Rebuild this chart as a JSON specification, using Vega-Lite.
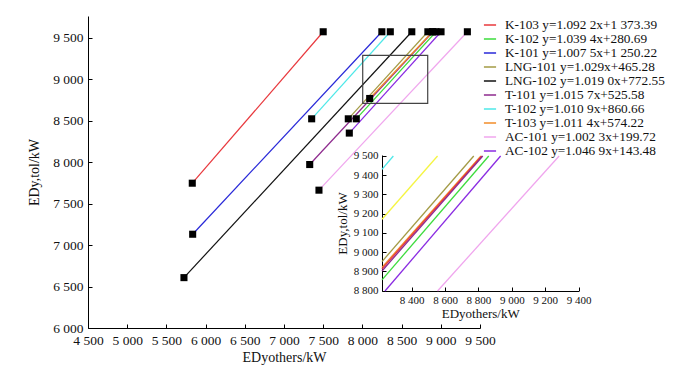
{
  "$schema": "https://vega.github.io/schema/vega-lite/v6.json",
  "width": 392,
  "height": 312,
  "autosize": {"type": "none"},
  "padding": {"left": 88, "top": 16, "right": 197, "bottom": 53},
  "background": "white",
  "config": {
    "view": {"stroke": null},
    "font": "Liberation Serif",
    "axis": {
      "grid": false,
      "domainColor": "#000",
      "tickColor": "#000",
      "labelColor": "#111",
      "titleColor": "#111",
      "labelFont": "Liberation Serif",
      "titleFont": "Liberation Serif",
      "titleFontWeight": "normal",
      "labelFlush": false,
      "labelOverlap": false,
      "labelBound": false
    },
    "legend": {
      "labelFont": "Liberation Serif",
      "labelColor": "#111"
    }
  },
  "datasets": {
    "main": [
      {"s": "K-103", "x": 5830, "y": 7745}, {"s": "K-103", "x": 7500, "y": 9570},
      {"s": "K-102", "x": 7922, "y": 8521}, {"s": "K-102", "x": 8939, "y": 9570},
      {"s": "K-101", "x": 5835, "y": 7130}, {"s": "K-101", "x": 8248, "y": 9570},
      {"s": "LNG-101", "x": 7820, "y": 8521}, {"s": "LNG-101", "x": 8835, "y": 9570},
      {"s": "LNG-102", "x": 5724, "y": 6607}, {"s": "LNG-102", "x": 8630, "y": 9570},
      {"s": "T-101", "x": 7328, "y": 7970}, {"s": "T-101", "x": 8900, "y": 9570},
      {"s": "T-102", "x": 7353, "y": 8521}, {"s": "T-102", "x": 8356, "y": 9570},
      {"s": "T-103", "x": 8093, "y": 8766}, {"s": "T-103", "x": 8895, "y": 9570},
      {"s": "AC-101", "x": 7446, "y": 7661}, {"s": "AC-101", "x": 9339, "y": 9570},
      {"s": "AC-102", "x": 7833, "y": 8349}, {"s": "AC-102", "x": 9003, "y": 9570}
    ],
    "inset": [
      {"s": "T-102", "x": 8222, "y": 9430}, {"s": "T-102", "x": 8290, "y": 9500},
      {"s": "Y", "x": 8222, "y": 9171}, {"s": "Y", "x": 8555, "y": 9500},
      {"s": "LNG-101", "x": 8222, "y": 8951}, {"s": "LNG-101", "x": 8772, "y": 9500},
      {"s": "T-103", "x": 8222, "y": 8921}, {"s": "T-103", "x": 8815, "y": 9500},
      {"s": "K-103", "x": 8222, "y": 8913}, {"s": "K-103", "x": 8820, "y": 9500},
      {"s": "T-101", "x": 8222, "y": 8902}, {"s": "T-101", "x": 8826, "y": 9500},
      {"s": "K-102", "x": 8222, "y": 8856}, {"s": "K-102", "x": 8862, "y": 9500},
      {"s": "AC-102", "x": 8240, "y": 8798}, {"s": "AC-102", "x": 8933, "y": 9500},
      {"s": "AC-101", "x": 8555, "y": 8798}, {"s": "AC-101", "x": 9284, "y": 9500}
    ],
    "box": [
      {"x": 8004, "x2": 8833, "y": 8706, "y2": 9285}
    ]
  },
  "layer": [
    {
      "encoding": {
        "x": {
          "field": "x", "type": "quantitative",
          "scale": {"domain": [4500, 9500], "nice": false, "zero": false},
          "axis": {
            "values": [4500, 5000, 5500, 6000, 6500, 7000, 7500, 8000, 8500, 9000, 9500],
            "labelExpr": "replace(format(datum.value, ','), ',', ' ')",
            "labelOverlap": false, "labelFlush": false,
            "tickSize": -4, "labelPadding": 9, "labelFontSize": 13.5,
            "title": "EDyothers/kW", "titleFontSize": 14, "titlePadding": 4
          }
        },
        "y": {
          "field": "y", "type": "quantitative",
          "scale": {"domain": [6000, 9760], "nice": false, "zero": false},
          "axis": {
            "values": [6000, 6500, 7000, 7500, 8000, 8500, 9000, 9500],
            "labelExpr": "replace(format(datum.value, ','), ',', ' ')",
            "labelOverlap": false,
            "tickSize": -4, "labelPadding": 9, "labelFontSize": 13.5,
            "title": "EDy,tol/kW", "titleFontSize": 14, "titlePadding": 11
          }
        }
      },
      "layer": [
        {
          "data": {"name": "main"},
          "mark": {"type": "line", "strokeWidth": 1.2},
          "encoding": {
            "color": {
              "field": "s", "type": "nominal",
              "scale": {
                "domain": ["K-103", "K-102", "K-101", "LNG-101", "LNG-102", "T-101", "T-102", "T-103", "AC-101", "AC-102", "Y"],
                "range": ["#e8383d", "#3ddc3d", "#2828d8", "#a39b45", "#111111", "#8e2a8e", "#4ee8e8", "#f28c28", "#f0a6ee", "#8a2be2", "#f5f542"]
              },
              "legend": {
                "values": ["K-103", "K-102", "K-101", "LNG-101", "LNG-102", "T-101", "T-102", "T-103", "AC-101", "AC-102"],
                "labelExpr": "{'K-103':'K-103 y=1.092 2x+1 373.39','K-102':'K-102 y=1.039 4x+280.69','K-101':'K-101 y=1.007 5x+1 250.22','LNG-101':'LNG-101 y=1.029x+465.28','LNG-102':'LNG-102 y=1.019 0x+772.55','T-101':'T-101 y=1.015 7x+525.58','T-102':'T-102 y=1.010 9x+860.66','T-103':'T-103 y=1.011 4x+574.22','AC-101':'AC-101 y=1.002 3x+199.72','AC-102':'AC-102 y=1.046 9x+143.48'}[datum.label]",
                "orient": "none", "legendX": 395, "legendY": 2,
                "title": null,
                "symbolType": "stroke", "symbolStrokeWidth": 1.5, "symbolSize": 148,
                "labelFontSize": 13.3, "rowPadding": 0, "labelOffset": 8
              }
            }
          }
        },
        {
          "data": {"name": "main"},
          "mark": {"type": "square", "size": 50, "color": "#000", "opacity": 1, "filled": true}
        },
        {
          "data": {"name": "box"},
          "mark": {"type": "rect", "fill": "transparent", "stroke": "#444", "strokeWidth": 1.2},
          "encoding": {
            "x2": {"field": "x2"},
            "y2": {"field": "y2"}
          }
        }
      ]
    },
    {
      "data": {"name": "inset"},
      "mark": {"type": "line", "strokeWidth": 1.3},
      "encoding": {
        "x": {
          "field": "x", "type": "quantitative",
          "scale": {"domain": [8222, 9400], "range": [294, 490.5], "nice": false, "zero": false},
          "axis": {
            "orient": "bottom", "offset": -37,
            "values": [8400, 8600, 8800, 9000, 9200, 9400],
            "labelExpr": "replace(format(datum.value, ','), ',', ' ')",
            "labelOverlap": false, "labelFlush": false,
            "tickSize": -4, "labelPadding": 7, "labelFontSize": 11,
            "title": "EDyothers/kW", "titleFontSize": 13, "titlePadding": 2
          }
        },
        "y": {
          "field": "y", "type": "quantitative",
          "scale": {"domain": [8798, 9505], "range": [275, 139], "nice": false, "zero": false},
          "axis": {
            "orient": "left", "offset": -294,
            "values": [8800, 8900, 9000, 9100, 9200, 9300, 9400, 9500],
            "labelExpr": "replace(format(datum.value, ','), ',', ' ')",
            "labelOverlap": false,
            "tickSize": -4, "labelPadding": 8, "labelFontSize": 11,
            "title": "EDy,tol/kW", "titleFontSize": 13, "titlePadding": 4
          }
        },
        "color": {"field": "s", "type": "nominal"}
      }
    }
  ],
  "resolve": {"scale": {"x": "independent", "y": "independent"}}
}
